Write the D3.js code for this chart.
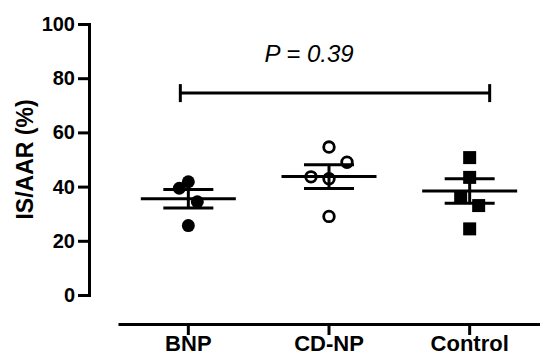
<!DOCTYPE html>
<html>
<head>
<meta charset="utf-8">
<script src="https://cdn.jsdelivr.net/npm/d3@7"></script>
<style>
  body { margin: 0; background: #fff; }
  svg { display: block; font-family: "Liberation Sans", Arial, sans-serif; }
</style>
</head>
<body>
<script>
// groups and values
const groups = ["BNP", "CD-NP", "Control"];
const bnpValues = [41.8, 39.4, 34.4, 25.6];
const cdnpValues = [54.6, 43.6, 42.9, 49.0, 29.0];
const controlValues = [50.7, 43.4, 36.1, 33.0, 24.4];
const groupMeans = [35.5, 43.7, 38.4];
const groupSems = [3.4, 4.4, 4.5];
const yTicks = [0, 20, 40, 60, 80, 100];
const pLabel = "P = 0.39";
const bracketValue = 74.5;

const app = {

  init: () => {
    app.svg = d3.select("body").append("svg")
      .attr("width", 540)
      .attr("height", 356);
    app.y = d3.scaleLinear().domain([0, 100]).range([295, 24]);
    app.x = d3.scaleBand().domain(groups).range([118, 540]);
    app.axes();
    app.errorBars();
    app.points();
    app.bracket();
  },

  center: (g) => app.x(g) + app.x.bandwidth() / 2,

  axes: () => {
    const svg = app.svg;
    const yAxis = svg.append("g")
      .attr("transform", "translate(89,0)")
      .call(d3.axisLeft(app.y).tickValues(yTicks).tickSize(11).tickSizeOuter(0).tickPadding(3));
    yAxis.selectAll("text")
      .style("font-size", "20px")
      .style("font-weight", "bold")
      .attr("fill", "#000");

    const xAxis = svg.append("g")
      .attr("transform", "translate(0,324)")
      .call(d3.axisBottom(app.x).tickSize(11).tickSizeOuter(0).tickPadding(0));
    xAxis.selectAll("text")
      .style("font-size", "22px")
      .style("font-weight", "bold")
      .attr("fill", "#000");

    svg.selectAll(".domain, .tick line")
      .attr("stroke", "#000")
      .attr("stroke-width", 3);
    yAxis.select(".domain").attr("stroke-linecap", "square");

    svg.append("text")
      .attr("transform", "translate(25," + app.y(50) + ") rotate(-90)")
      .attr("text-anchor", "middle")
      .attr("dominant-baseline", "central")
      .style("font-size", "23px")
      .style("font-weight", "bold")
      .text("IS/AAR (%)");
  },

  errorBars: () => {
    let stats = groups.map((g, i) => ({ g: g, mean: groupMeans[i], sem: groupSems[i] }));
    let bars = app.svg.append("g")
      .attr("stroke", "#000")
      .attr("stroke-width", 3)
      .selectAll("g")
      .data(stats)
      .enter()
      .append("g")
      .attr("transform", d => "translate(" + app.center(d.g) + ",0)");
    // mean
    bars.append("line")
      .attr("x1", -47.5).attr("x2", 47.5)
      .attr("y1", d => app.y(d.mean)).attr("y2", d => app.y(d.mean));
    // sem
    bars.append("line")
      .attr("x1", 0).attr("x2", 0)
      .attr("y1", d => app.y(d.mean + d.sem)).attr("y2", d => app.y(d.mean - d.sem));
    bars.selectAll(".cap")
      .data(d => [d.mean + d.sem, d.mean - d.sem])
      .enter()
      .append("line")
      .attr("x1", -25).attr("x2", 25)
      .attr("y1", d => app.y(d)).attr("y2", d => app.y(d));
  },

  // points that share a value row are spread side by side, like a Prism scatter
  spread: (values) => {
    let rows = d3.group(values, v => Math.floor((v - 40.4) / 9.5));
    let out = [];
    rows.forEach(list => {
      list.forEach((v, k) => {
        out.push({ v: v, dx: (k - (list.length - 1) / 2) * 18 });
      });
    });
    return out;
  },

  points: () => {
    const svg = app.svg;
    let series = [bnpValues, cdnpValues, controlValues];
    series.forEach((vals, i) => {
      let cx = app.center(groups[i]);
      let pts = app.spread(vals);
      let g = svg.append("g");
      if (i === 0) {
        g.selectAll("circle").data(pts).enter().append("circle")
          .attr("cx", d => cx + d.dx)
          .attr("cy", d => app.y(d.v))
          .attr("r", 6.5)
          .attr("fill", "#000");
      } else if (i === 1) {
        g.selectAll("circle").data(pts).enter().append("circle")
          .attr("cx", d => cx + d.dx)
          .attr("cy", d => app.y(d.v))
          .attr("r", 5.3)
          .attr("fill", "none")
          .attr("stroke", "#000")
          .attr("stroke-width", 2.8);
      } else {
        g.selectAll("rect").data(pts).enter().append("rect")
          .attr("x", d => cx + d.dx - 6.5)
          .attr("y", d => app.y(d.v) - 6.5)
          .attr("width", 13)
          .attr("height", 13)
          .attr("fill", "#000");
      }
    });
  },

  bracket: () => {
    const svg = app.svg;
    let x1 = app.center("BNP") - 8;
    let x2 = app.center("Control") + 20;
    let yb = app.y(bracketValue);
    let g = svg.append("g").attr("stroke", "#000").attr("stroke-width", 3);
    g.append("line").attr("x1", x1).attr("x2", x2).attr("y1", yb).attr("y2", yb);
    [x1, x2].forEach(xx => {
      g.append("line").attr("x1", xx).attr("x2", xx).attr("y1", yb - 9).attr("y2", yb + 9);
    });
    svg.append("text")
      .attr("x", app.center("CD-NP") - 20)
      .attr("y", app.y(86))
      .attr("text-anchor", "middle")
      .style("font-size", "24px")
      .style("font-style", "italic")
      .text(pLabel);
  }

};

app.init();
</script>
</body>
</html>
